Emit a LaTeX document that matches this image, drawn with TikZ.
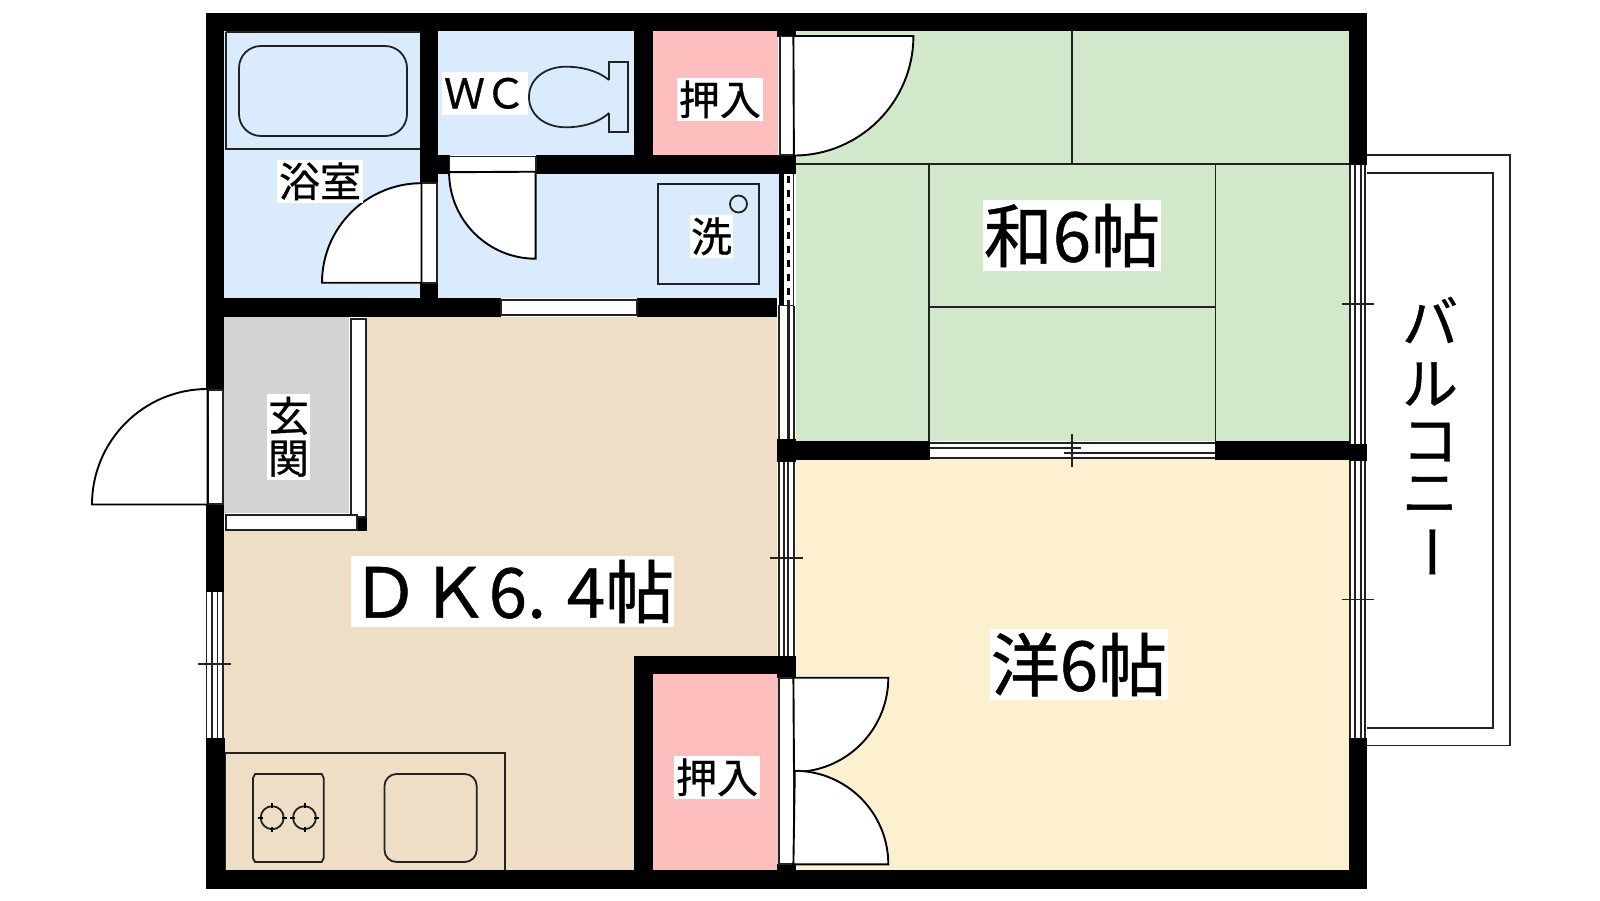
\documentclass[tikz,border=0pt]{standalone}
\usepackage{fontspec}
\setmainfont[RawFeature={embolden=0.7}]{Noto Sans CJK JP}
\tikzset{
  ln/.style={draw=linec,line width=1.8pt},
  leaf/.style={fill=white,draw=black,line width=1.9pt,line join=miter},
  frame/.style={fill=white,draw=linec,line width=1.8pt},
  wall/.style={fill=black,draw=none},
  lbl/.style={fill=white,text=black,inner sep=0pt,outer sep=0pt,align=center},
  small/.style={lbl,font=\fontsize{41}{41}\selectfont},
  big/.style={lbl,font=\fontsize{69}{69}\selectfont},
  balc/.style={font=\fontsize{56}{56}\selectfont,inner sep=0pt}
}
\definecolor{linec}{HTML}{222222}
\definecolor{blue}{HTML}{DBEBFE}
\definecolor{pink}{HTML}{FFBEBE}
\definecolor{tatami}{HTML}{D2E8CB}
\definecolor{dk}{HTML}{EFDEC6}
\definecolor{yoshitsu}{HTML}{FDF0D0}
\definecolor{genkan}{HTML}{D3D3D3}
\begin{document}
\begin{tikzpicture}[x=1pt,y=-1pt]
\useasboundingbox (0,0) rectangle (1600,900);
\fill[white] (0,0) rectangle (1600,900);
% room fills
\fill[blue] (224,31) rectangle (420,298);
\fill[blue] (438,31) rectangle (634,155);
\fill[blue] (438,173.7) rectangle (779,298);
\fill[tatami] (796,31) rectangle (1349,441);
\fill[yoshitsu] (796,459) rectangle (1349,870);
\fill[dk] (224,316.7) rectangle (777,870);
\fill[pink] (653,31) rectangle (777.5,155);
\fill[pink] (653,674) rectangle (777.5,870);
\fill[genkan] (224,316.7) rectangle (349,513);
\fill[white] (349,316.7) rectangle (367,530.7);
\fill[white] (224,513) rectangle (367,530.7);
% balcony
\draw[ln] (1367,155.3) -- (1510.3,155.3) -- (1510.3,745.5) -- (1367,745.5);
\draw[ln] (1367,172.9) -- (1492.7,172.9) -- (1492.7,727.6) -- (1367,727.6);
% tatami lines
\draw[ln] (796,164.3) -- (1349,164.3);
\draw[ln] (1072,31) -- (1072,164.3);
\draw[ln] (929.3,164.3) -- (929.3,441);
\draw[ln] (1215.5,164.3) -- (1215.5,441);
\draw[ln] (929.3,307.3) -- (1215.5,307.3);
% fixtures
\draw[ln] (225.6,32.3) -- (420,32.3);
\draw[ln] (225.6,32.3) -- (225.6,149.3) -- (420,149.3);
\draw[ln,rounded corners=22pt] (239,46) rectangle (407,136);
\draw[ln] (658,184) rectangle (759,284);
\draw[ln] (738.5,204) circle[radius=8.5pt];
% toilet
\draw[ln] (609,80) .. controls (597,70) and (580,66.7) .. (566,66.7)
  .. controls (545,66.7) and (529,79) .. (529,97)
  .. controls (529,115) and (545,127.3) .. (566,127.3)
  .. controls (580,127.3) and (597,124) .. (609,113);
\draw[ln] (609,80) -- (609,62) -- (628,62) -- (628,132.3) -- (609,132.3) -- (609,113);
% kitchen
\draw[ln] (225.3,870) -- (225.3,753.3) -- (505,753.3) -- (505,870);
\draw[ln] (255,774) -- (321.7,774) -- (323.7,778) -- (323.7,858) -- (321.7,862) -- (255,862) -- (253,858) -- (253,778) -- cycle;
\foreach \cx in {272.2,304.5}{
  \draw[ln] (\cx,817.7) circle[radius=11.5pt];
  \draw[line width=2pt,black] (\cx-14.5,817.7) -- (\cx-9.5,817.7) (\cx+9.5,817.7) -- (\cx+14.5,817.7)
    (\cx,803.2) -- (\cx,808.2) (\cx,827.2) -- (\cx,832.2);
}
\draw[ln,rounded corners=12pt] (384.5,774) rectangle (476.7,862);
% walls
\fill[wall] (206,13) rectangle (1367,31);
\fill[wall] (206,870) rectangle (1367,888.7);
\fill[wall] (206,13) rectangle (224,390);
\fill[wall] (206,504) rectangle (224,591.7);
\fill[wall] (206,737.7) rectangle (224.5,888.7);
\fill[wall] (1349,13) rectangle (1367,164.7);
\fill[wall] (1349,443.5) rectangle (1367,461.4);
\fill[wall] (1349,738) rectangle (1367,888.7);
\fill[wall] (420,13) rectangle (438,182.7);
\fill[wall] (420,282.7) rectangle (438,316.7);
\fill[wall] (634,13) rectangle (653,173.7);
\fill[wall] (777,13) rectangle (796,36.7);
\fill[wall] (420,155) rectangle (449.5,173.7);
\fill[wall] (535.6,155) rectangle (796,173.7);
\fill[wall] (206,298) rectangle (501,316.7);
\fill[wall] (637,298) rectangle (777,316.7);
\fill[wall] (777,439) rectangle (796,462);
\fill[wall] (796,441) rectangle (929.5,460);
\fill[wall] (1215,441) rectangle (1349,460);
\fill[wall] (634,656) rectangle (653,888.7);
\fill[wall] (634,656) rectangle (796,674);
\fill[wall] (777.3,656) rectangle (795.7,677.7);
\fill[wall] (777.3,864) rectangle (795.7,888.7);
\fill[wall] (356.7,516.7) rectangle (367.3,530.7);
% door frames and leaves
\draw[frame] (780,36.5) rectangle (793.4,155);
\draw[leaf] (793.4,36) -- (913.4,36) arc[start angle=0,end angle=-90,radius=119.5pt] -- cycle;
\draw[frame] (421.5,182.7) rectangle (436.7,282.7);
\draw[leaf] (421.5,282.7) -- (322,282.7) arc[start angle=180,end angle=90,radius=99.5pt] -- cycle;
\draw[frame] (449.5,156.5) rectangle (535.6,171.7);
\draw[leaf] (535.6,258.7) arc[start angle=-90,end angle=-180,radius=86.5pt] -- (535.6,171.7) -- cycle;
\draw[frame] (501,299.7) rectangle (637,315);
\draw[frame] (207.7,390) rectangle (222.7,504);
\draw[leaf] (207.7,504.5) -- (92,504.5) arc[start angle=180,end angle=90,radius=115.5pt] -- cycle;
\draw[frame] (350.7,319) rectangle (365.7,517);
\draw[frame] (226,515) rectangle (356.7,530);
\draw[frame] (779.3,677.7) rectangle (793.4,864.3);
\draw[leaf] (793.4,677.7) -- (888.3,677.7) arc[start angle=0,end angle=-90,radius=94.3pt] -- cycle;
\draw[leaf] (793.4,864.3) -- (888.3,864.3) arc[start angle=0,end angle=90,radius=93.5pt] -- cycle;
% lavatory right edge: wall with dashed opening
\fill[wall] (779,173.7) rectangle (784.3,306);
\fill[white] (784.3,173.7) rectangle (792,306);
\draw[line width=2.6pt,black,dash pattern=on 7pt off 7pt] (788.3,176) -- (788.3,304);
\draw[ln] (793.5,173.7) -- (793.5,306);
\draw[ln] (778,306) -- (794,306);
% window DK-tatami upper
\fill[white] (779.3,306) rectangle (793.7,439);
\draw[ln] (779.3,306) -- (779.3,439) (793.7,306) -- (793.7,439);
\draw[ln,line width=2.6pt] (788.5,300) -- (788.5,439);
% window DK-yoshitsu
\fill[white] (779.3,462) rectangle (793.7,656);
\draw[ln] (779.3,462) -- (779.3,656) (784.3,462) -- (784.3,656) (788.3,462) -- (788.3,656) (793.7,462) -- (793.7,656);
\draw[ln] (770,558.3) -- (802.7,558.3) (784.3,550.7) -- (784.3,558.3) (788.3,558.3) -- (788.3,567.3);
% sliding doors between tatami and yoshitsu
\fill[white] (929.5,442) rectangle (1215,459);
\draw[ln] (929.5,443.3) -- (1215,443.3) (929.5,458.3) -- (1215,458.3);
\draw[ln] (929.5,448.3) -- (1080.7,448.3) (1064.3,452.7) -- (1215,452.7);
\draw[ln] (1072.3,434) -- (1072.3,466.7);
% left window
\fill[white] (206.5,591.7) rectangle (223,737.7);
\draw[ln] (206.5,591.7) -- (206.5,737.7) (211.8,591.7) -- (211.8,737.7) (217.5,591.7) -- (217.5,737.7) (223,591.7) -- (223,737.7);
\draw[ln] (198,664.3) -- (230.6,664.3) (211.8,656.7) -- (211.8,664.3) (217.5,664.3) -- (217.5,673.3);
% right windows
\foreach \ya/\yb/\ym in {164.7/443.5/304.3,461.4/738/599.4}{
  \fill[white] (1350,\ya) rectangle (1365.3,\yb);
  \draw[ln] (1350,\ya) -- (1350,\yb) (1355.3,\ya) -- (1355.3,\yb) (1360.7,\ya) -- (1360.7,\yb) (1365.3,\ya) -- (1365.3,\yb);
  \draw[ln] (1342.3,\ym) -- (1374.3,\ym) (1355.3,\ym-8.6) -- (1355.3,\ym) (1360.7,\ym) -- (1360.7,\ym+8);
}
% labels
\node[small,minimum width=86pt,minimum height=43pt] (bath) at (320,181.3) {浴室};
\node[small,minimum width=86pt,minimum height=43pt] (wc) at (485,93.3) {ＷＣ};
\node[small,minimum width=86pt,minimum height=43pt] (oshi1) at (719.8,99.3) {押入};
\node[small,minimum width=43pt,minimum height=43pt] (wash) at (711.5,236.3) {洗};
\node[small,minimum width=43pt,minimum height=86pt] (genkanlbl) at (288.5,436.8) {玄\\[1pt]関};
\node[small,minimum width=86pt,minimum height=43pt] (oshi2) at (717,777.3) {押入};
\node[big,minimum width=178pt,minimum height=71pt] (wa) at (1072,235.5) {和6帖};
\node[big,minimum width=321pt,minimum height=71pt] (dklbl) at (512.5,591.5) {ＤＫ6. 4帖};
\node[big,minimum width=178pt,minimum height=71pt] (you) at (1079,664.5) {洋6帖};
\foreach \c/\y/\n in {バ/320/a,ル/384/b,コ/442/c,ニ/495/d}{
  \node[balc] (bal\n) at (1430,\y) {\c};
}
\node[balc,rotate=-90] (bale) at (1423,552) {ー};
\end{tikzpicture}
\end{document}
